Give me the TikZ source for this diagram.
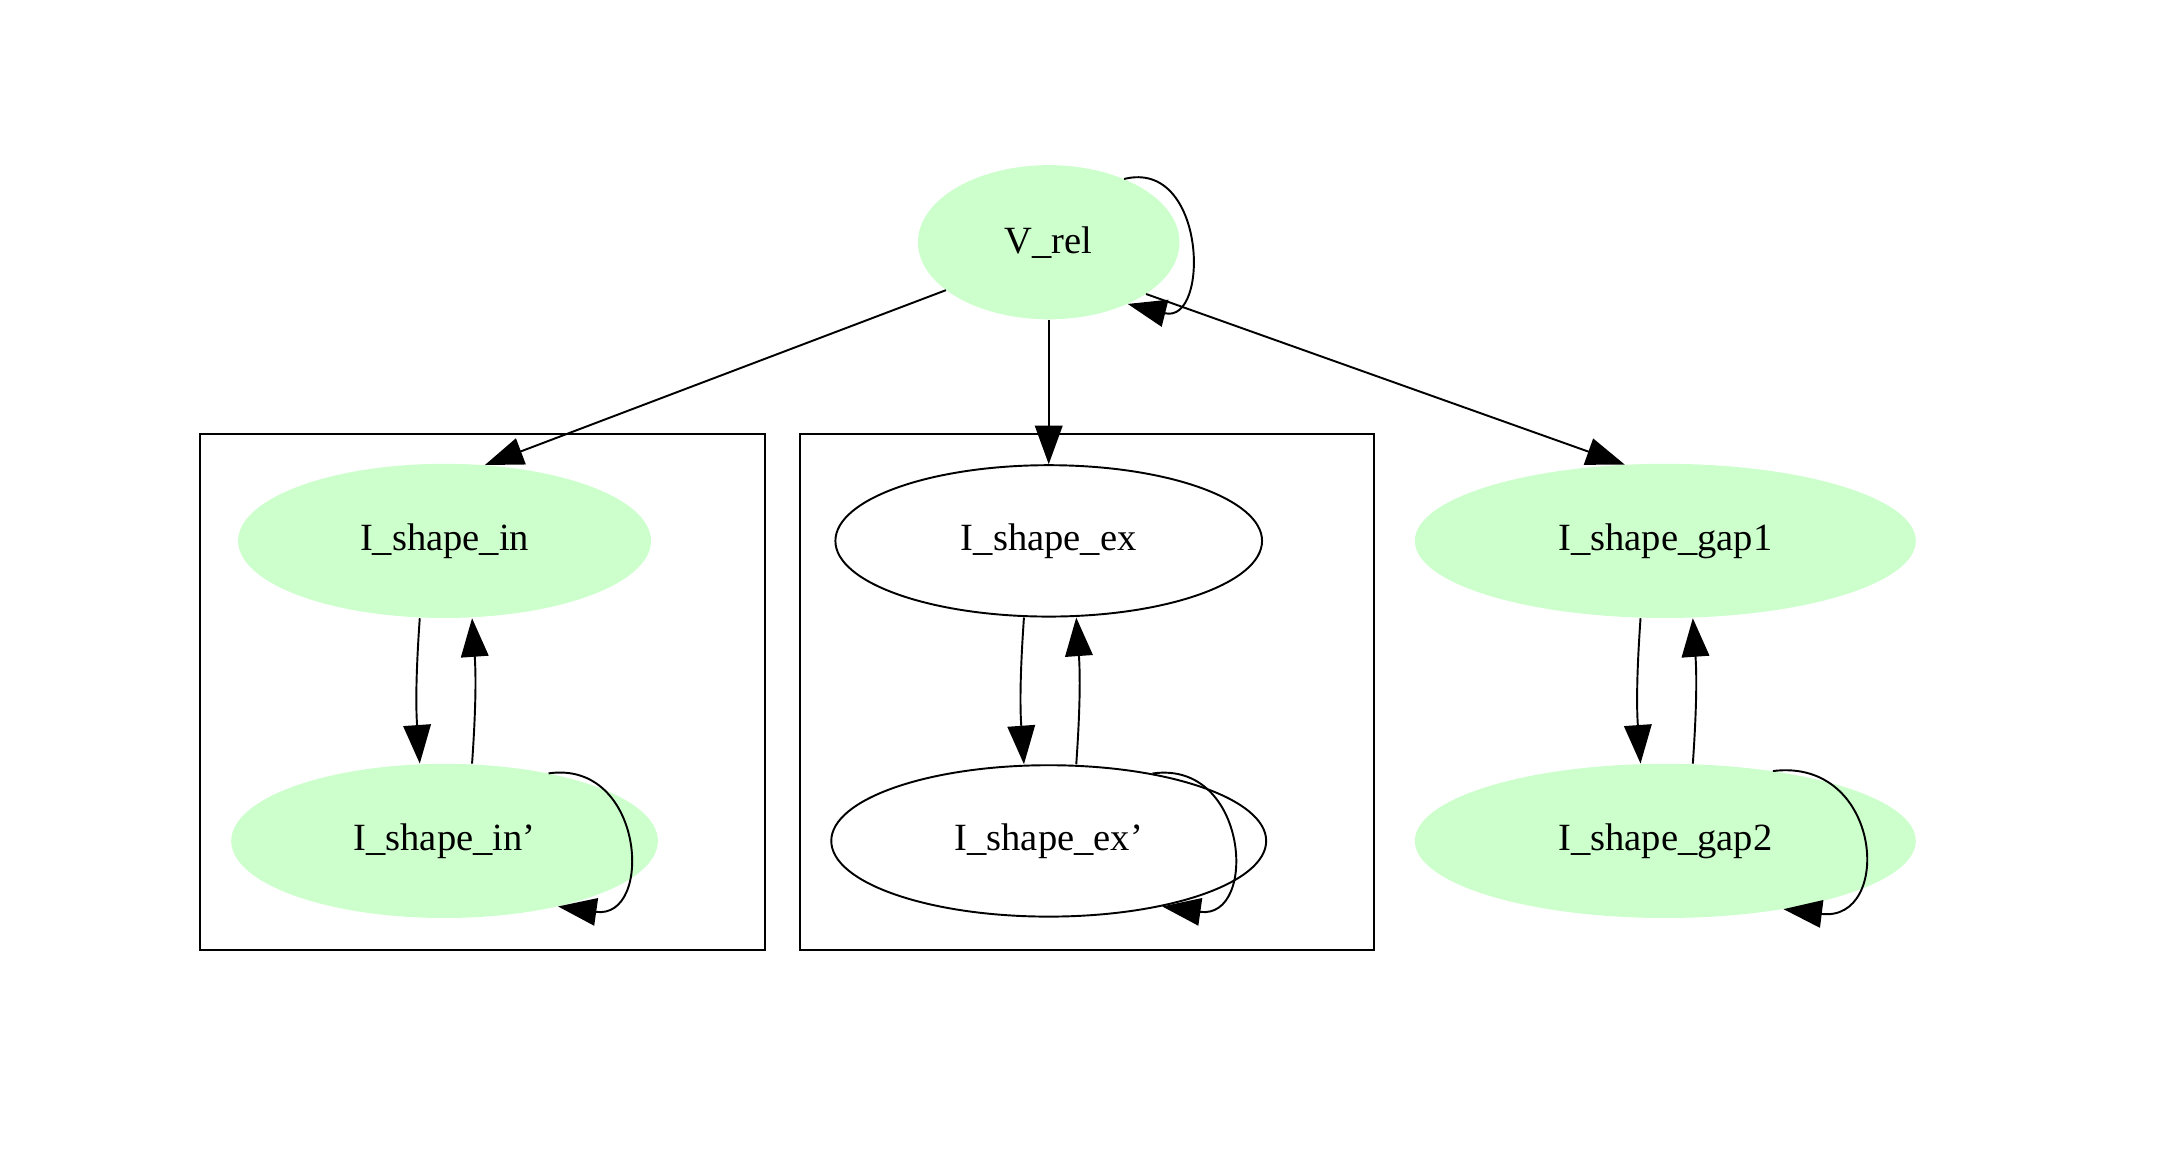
\documentclass[tikz,border=0pt]{standalone}
\usepackage{fontspec}
\setmainfont{Liberation Serif}
\usetikzlibrary{arrows.meta,shapes.geometric}
\begin{document}
\begin{tikzpicture}[x=1pt,y=-1pt,
  gnode/.style={ellipse,fill=green!20,minimum height=112pt,inner sep=0pt,font=\fontsize{28}{30}\selectfont},
  wnode/.style={ellipse,draw,line width=1.4pt,minimum height=110pt,inner sep=0pt,font=\fontsize{28}{30}\selectfont},
  edge/.style={line width=1.4pt,-{Triangle[length=28pt,width=20pt]}},
  clus/.style={draw,line width=1.4pt}]
\useasboundingbox (0,0) rectangle (1568,836);
\draw[clus] (145,315) rectangle (556,690);
\draw[clus] (581,315) rectangle (998,690);
\node[gnode,minimum width=190pt] (v) at (762,176) {V\_rel};
\node[gnode,minimum width=300pt] (in) at (323,393) {I\_shape\_in};
\node[gnode,minimum width=310pt] (in2) at (323,611) {I\_shape\_in'};
\node[wnode,minimum width=310pt] (ex) at (762,393) {I\_shape\_ex};
\node[wnode,minimum width=316pt] (ex2) at (762,611) {I\_shape\_ex'};
\node[gnode,minimum width=364pt] (g1) at (1210,393) {I\_shape\_gap1};
\node[gnode,minimum width=364pt] (g2) at (1210,611) {I\_shape\_gap2};
\draw[edge] (v.-155) -- (in.62);
\draw[edge] (v) -- (ex);
\draw[edge] (v.-28) -- (g1.118);
\draw[edge] (v.40) .. controls +(60,-15) and +(60,15) .. (v.-38);
\foreach \a/\b in {in/in2,ex/ex2,g1/g2}{
  \draw[edge] ([xshift=-18pt]\a.south) to[bend right=4] ([xshift=-18pt]\b.north);
  \draw[edge] ([xshift=20pt]\b.north) to[bend right=4] ([xshift=20pt]\a.south);
}
\draw[edge] (in2.33) .. controls +(70,-10) and +(70,10) .. (in2.-30);
\draw[edge] (ex2.33) .. controls +(70,-10) and +(70,10) .. (ex2.-30);
\draw[edge] (g2.33) .. controls +(80,-10) and +(80,10) .. (g2.-30);
\end{tikzpicture}
\end{document}
